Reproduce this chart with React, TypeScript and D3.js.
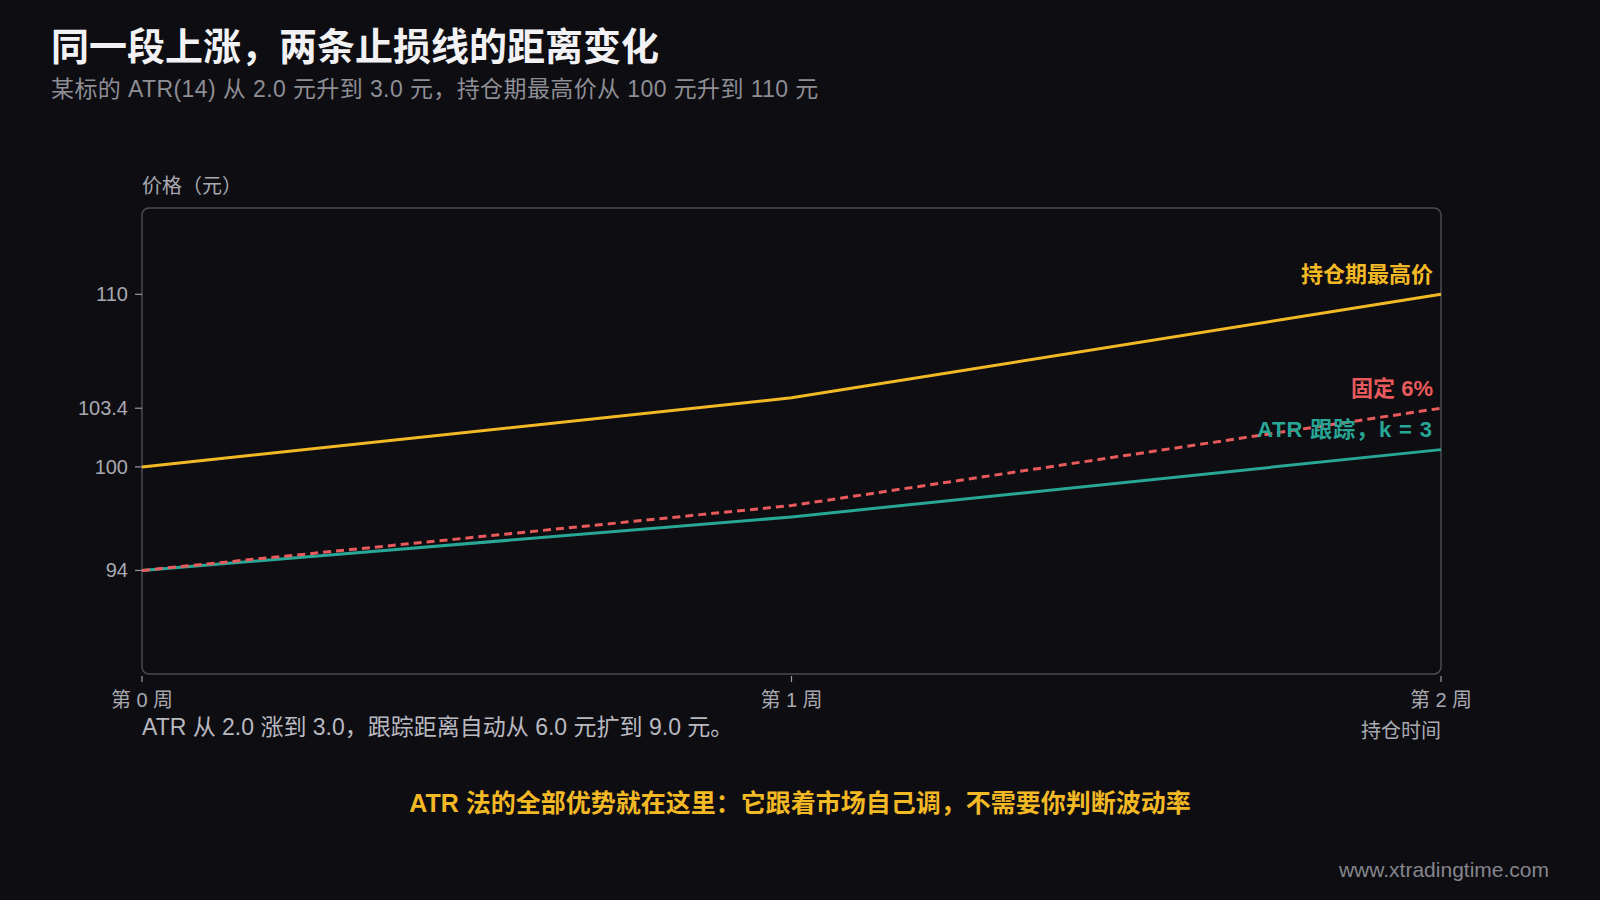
import * as d3 from "d3";

const weeks = [0, 1, 2];
const weekLabels = ["第 0 周", "第 1 周", "第 2 周"];
const highest = [100, 104, 110];
const fixedStop = [94, 97.76, 103.4];
const atrStop = [94, 97.1, 101];
const yTickValues = [94, 100, 103.4, 110];

const W = 1600;
const H = 900;
const PLOT = { left: 142, right: 1441, top: 208, bottom: 674 };
const FONT = '"Liberation Sans", "Noto Sans CJK SC", sans-serif';

const YELLOW = "#f3b925";
const RED = "#e85a5c";
const TEAL = "#28a696";

const series = [
  { name: "ATR 跟踪，k = 3", values: atrStop, color: TEAL, dash: undefined as string | undefined, spacing: 0.9 },
  { name: "固定 6%", values: fixedStop, color: RED, dash: "8,5", spacing: 0 },
  { name: "持仓期最高价", values: highest, color: YELLOW, dash: undefined as string | undefined, spacing: 0 },
];

export default function App() {
  const x = d3.scaleLinear().domain([0, 2]).range([PLOT.left, PLOT.right]);
  const y = d3.scaleLinear().domain([88, 115]).range([PLOT.bottom, PLOT.top]);

  const line = d3
    .line<number>()
    .x((_, i) => x(weeks[i]))
    .y((d) => y(d));

  return (
    <svg
      width={W}
      height={H}
      viewBox={`0 0 ${W} ${H}`}
      style={{ position: "fixed", left: 0, top: 0, display: "block" }}
      fontFamily={FONT}
    >
      <rect width={W} height={H} fill="#0d0d12" />

      {/* Titles */}
      <text x={51} y={60} fontSize={38} fontWeight={700} fill="#f2f2f4">
        同一段上涨，两条止损线的距离变化
      </text>
      <text x={51} y={97} fontSize={23} letterSpacing={0.4} fill="#8e8e95">
        某标的 ATR(14) 从 2.0 元升到 3.0 元，持仓期最高价从 100 元升到 110 元
      </text>

      {/* Y label */}
      <text x={142} y={193} fontSize={20} fill="#a9a9b0">
        价格（元）
      </text>

      {/* Frame */}
      <rect
        x={PLOT.left}
        y={PLOT.top}
        width={PLOT.right - PLOT.left}
        height={PLOT.bottom - PLOT.top}
        rx={7}
        fill="none"
        stroke="#4b4b53"
        strokeWidth={1.5}
      />

      {/* Y ticks */}
      {yTickValues.map((t) => (
        <g key={t}>
          <line x1={PLOT.left - 7} x2={PLOT.left} y1={y(t)} y2={y(t)} stroke="#9a9aa0" strokeWidth={1.2} />
          <text x={PLOT.left - 14} y={y(t)} dy="0.35em" textAnchor="end" fontSize={20} fill="#a9a9b0">
            {t}
          </text>
        </g>
      ))}

      {/* X ticks */}
      {weeks.map((w, i) => (
        <g key={w}>
          <line x1={x(w)} x2={x(w)} y1={PLOT.bottom + 2} y2={PLOT.bottom + 8} stroke="#9a9aa0" strokeWidth={1.2} />
          <text x={x(w)} y={707} textAnchor="middle" fontSize={20} fill="#a9a9b0">
            {weekLabels[i]}
          </text>
        </g>
      ))}
      <text x={PLOT.right} y={738} textAnchor="end" fontSize={20} fill="#a9a9b0">
        持仓时间
      </text>

      {/* Lines */}
      {series.map((s) => (
        <path
          key={s.name}
          d={line(s.values) ?? ""}
          fill="none"
          stroke={s.color}
          strokeWidth={3}
          strokeDasharray={s.dash}
        />
      ))}

      {/* End labels */}
      {series.map((s) => (
        <text
          key={s.name + "-label"}
          x={PLOT.right - 8}
          y={y(s.values[s.values.length - 1]) - 20}
          dy="0.35em"
          textAnchor="end"
          fontSize={22}
          fontWeight={700}
          letterSpacing={s.spacing}
          fill={s.color}
        >
          {s.name}
        </text>
      ))}

      {/* Notes */}
      <text x={142} y={735} fontSize={23} fill="#b9b9c0">
        ATR 从 2.0 涨到 3.0，跟踪距离自动从 6.0 元扩到 9.0 元。
      </text>
      <text x={800} y={812} textAnchor="middle" fontSize={25} fontWeight={700} fill={YELLOW}>
        ATR 法的全部优势就在这里：它跟着市场自己调，不需要你判断波动率
      </text>
      <text x={1549} y={877} textAnchor="end" fontSize={21} fill="#85858c">
        www.xtradingtime.com
      </text>
    </svg>
  );
}
